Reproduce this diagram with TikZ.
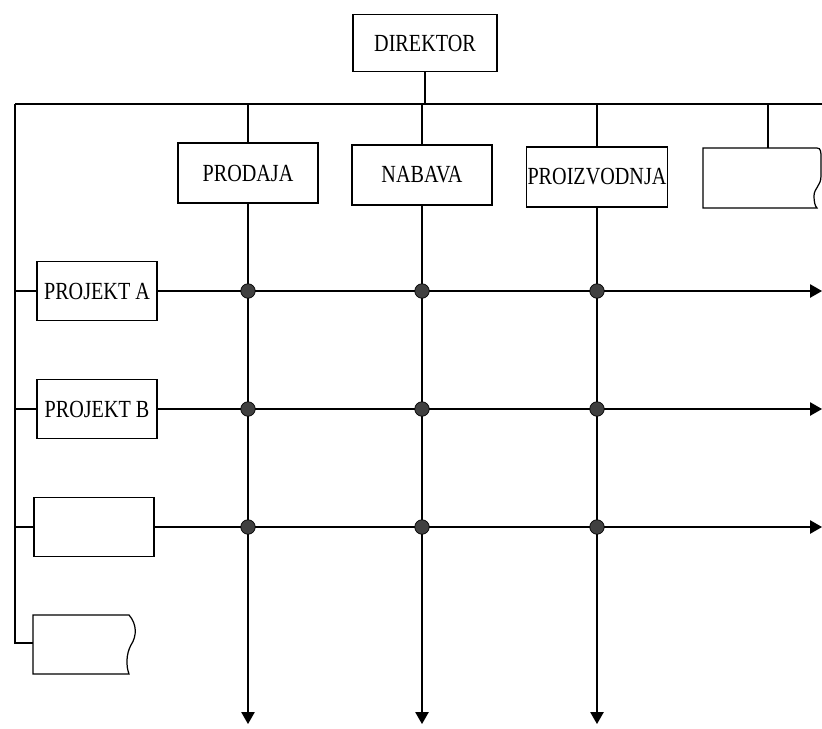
\documentclass[tikz,border=0pt]{standalone}
\usepackage{fontspec}
\setmainfont{Liberation Serif}[FakeStretch=0.82]
\usetikzlibrary{arrows.meta}
\begin{document}
\begin{tikzpicture}[x=0.02cm,y=-0.02cm,
  line width=0.6pt,
  box/.style={draw, line width=0.7pt, minimum width=2.8cm, minimum height=1.2cm, inner sep=0.5pt,
    font=\fontsize{14}{16}\selectfont},
  pbox/.style={box, minimum width=2.4cm, minimum height=1.18cm},
  jdot/.style={circle, fill=black!75, draw=black, line width=0.4pt, minimum size=0.29cm, inner sep=0pt},
  tip/.style={-{Triangle[width=0.27cm,length=0.24cm]}}]
\useasboundingbox (0,0) rectangle (822,728);

% boxes
\node[box, minimum width=2.88cm, minimum height=1.14cm] (dir) at (425,43) {DIREKTOR};
\node[box] (prod) at (248,173) {PRODAJA};
\node[box] (nab) at (422,175) {NABAVA};
\node[box] (proiz) at (597,177) {PROIZVODNJA};
\node[pbox] (pa) at (97,291) {PROJEKT A};
\node[pbox] (pb) at (97,409) {PROJEKT B};
\node[pbox] (pc) at (94,527) {};

% cut-off boxes (wavy edge)
\coordinate (rbox) at (768,148);
\draw[line width=0.7pt] (703,148) -- (817,148) .. controls (821,148) and (821,152) .. (821,158)
  -- (821,176) .. controls (821,186) and (814,188) .. (814,196)
  .. controls (814,202) and (815,206) .. (817,208) -- (703,208) -- cycle;
\coordinate (lbox) at (33,643);
\draw[line width=0.7pt] (33,615) -- (129,615) .. controls (137,624) and (137,636) .. (131,645)
  .. controls (126,654) and (126,666) .. (129,674) -- (33,674) -- cycle;

% top bus
\coordinate (tl) at (15,104);
\coordinate (tr) at (822,104);
\draw (tl) -- (tr);
\draw (dir.south) -- (dir.south |- tl);
\draw (prod.north |- tl) -- (prod.north);
\draw (nab.north |- tl) -- (nab.north);
\draw (proiz.north |- tl) -- (proiz.north);
\draw (rbox |- tl) -- (rbox);

% left bus
\draw (tl) -- (tl |- lbox) -- (lbox);
\draw (tl |- pa) -- (pa.west);
\draw (tl |- pb) -- (pb.west);
\draw (tl |- pc) -- (pc.west);

% column lines
\coordinate (bot) at (0,724);
\draw[tip] (prod.south) -- (prod.south |- bot);
\draw[tip] (nab.south) -- (nab.south |- bot);
\draw[tip] (proiz.south) -- (proiz.south |- bot);

% project rows
\draw[tip] (pa.east) -- (tr |- pa);
\draw[tip] (pb.east) -- (tr |- pb);
\draw[tip] (pc.east) -- (tr |- pc);

% junction dots
\foreach \c in {prod,nab,proiz}{
  \foreach \r in {pa,pb,pc}{
    \node[jdot] (d-\c-\r) at (\c |- \r) {};
  }
}
\end{tikzpicture}
\end{document}
